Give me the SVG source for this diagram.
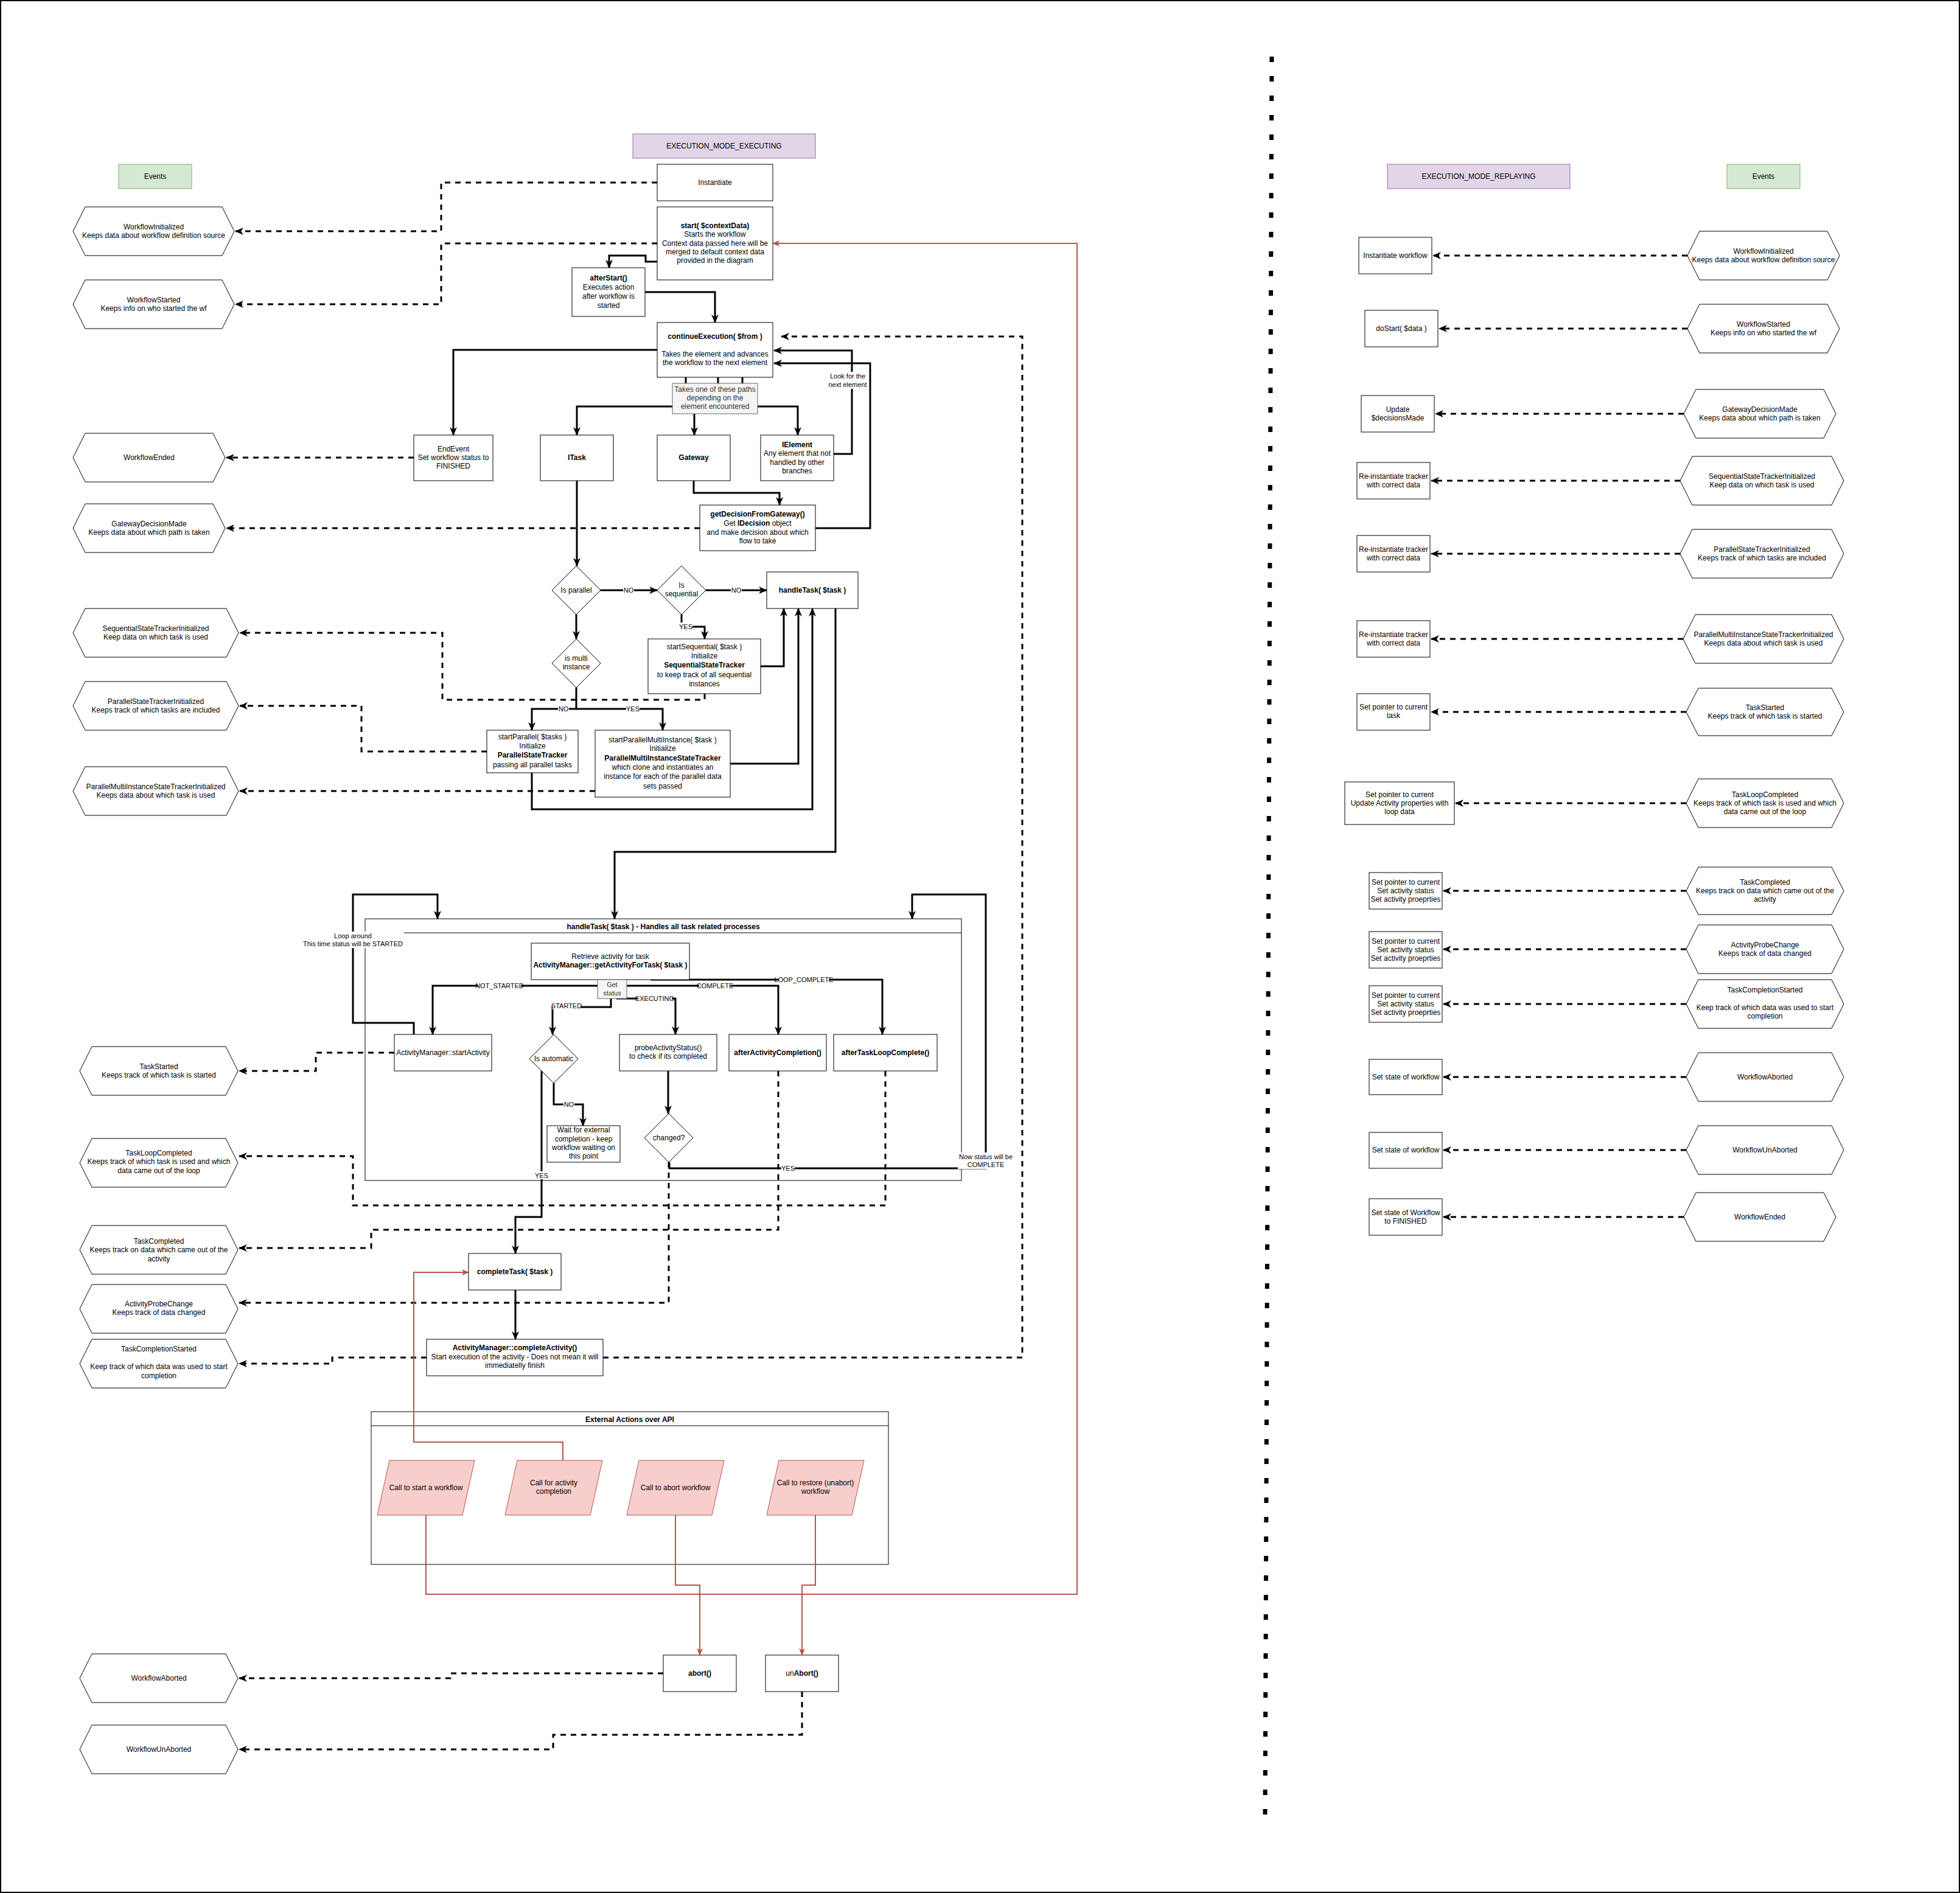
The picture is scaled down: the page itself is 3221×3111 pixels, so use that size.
<svg xmlns="http://www.w3.org/2000/svg" width="3221" height="3111" viewBox="0 0 3221 3111">
<defs>
<style>
.n{fill:#fff;stroke:#000;stroke-width:1}
.t{font-family:"Liberation Sans",Arial,Helvetica,sans-serif;font-size:12px;fill:#000;text-anchor:middle}
.s{font-size:11px}
.b{font-weight:bold}
.g{fill:#f5f5f5;stroke:#666;stroke-width:1}
.gt{fill:#333}
.c{fill:none;stroke:#000;stroke-width:3;marker-end:url(#a)}
.cn{fill:none;stroke:#000;stroke-width:3}
.d{fill:none;stroke:#000;stroke-width:3;stroke-dasharray:9 8;marker-end:url(#a)}
.r{fill:none;stroke:#b85450;stroke-width:2;marker-end:url(#ar)}
.lb{fill:#fff;stroke:none}
.p{fill:#f8cecc;stroke:#b85450;stroke-width:1}
</style>
<marker id="a" viewBox="0 0 14 12" refX="13" refY="6" markerWidth="14" markerHeight="12" orient="auto" markerUnits="userSpaceOnUse"><path d="M0,0 L14,6 L0,12 L4,6 z" fill="#000"/></marker>
<marker id="ar" viewBox="0 0 12 10" refX="11" refY="5" markerWidth="12" markerHeight="10" orient="auto" markerUnits="userSpaceOnUse"><path d="M0,0 L12,5 L0,10 L3,5 z" fill="#b85450"/></marker>
</defs>
<rect x="0" y="0" width="3221" height="3111" fill="#fff"/>
<rect x="1" y="1" width="3219" height="3109" fill="none" stroke="#000" stroke-width="2"/>
<line x1="2090" y1="93" x2="2079" y2="2985" stroke="#000" stroke-width="7" stroke-dasharray="9 23"/>

<g id="containers">
<g id="handleTaskLane">
<rect x="600" y="1510" width="980" height="430" fill="none" stroke="#000" stroke-width="1"/>
<line x1="600" y1="1533" x2="1580" y2="1533" stroke="#000" stroke-width="1"/>
<text class="t b" x="1090" y="1527">handleTask( $task ) - Handles all task related processes</text>
</g>
<g id="externalLane">
<rect x="610" y="2320" width="850" height="251" fill="#fff" stroke="#000" stroke-width="1"/>
<line x1="610" y1="2343" x2="1460" y2="2343" stroke="#000" stroke-width="1"/>
<text class="t b" x="1035" y="2337">External Actions over API</text>
</g>
</g>

<g id="connectors">
<path class="d" d="M1080,300 H725 V380 H387"/>
<path class="d" d="M1080,400 H725 V500 H387"/>
<path class="d" d="M680,752 H372"/>
<path class="d" d="M1150,868 H372"/>
<path class="d" d="M1158,1140 V1150 H727 V1040 H394"/>
<path class="d" d="M800,1235 H594 V1160 H394"/>
<path class="d" d="M978,1300 H394"/>
<path class="d" d="M648,1730 H519 V1760 H393"/>
<path class="d" d="M1455,1760 V1981 H580 V1900 H393"/>
<path class="d" d="M1279,1760 V2021 H610 V2051 H393"/>
<path class="d" d="M1099,1910 V2141 H393"/>
<path class="d" d="M701,2231 H546 V2241 H393"/>
<path class="d" d="M991,2231 H1680 V553 H1284"/>
<path class="d" d="M1090,2750 H740 V2758 H393"/>
<path class="d" d="M1318,2780 V2851 H909 V2875 H393"/>
<path class="c" d="M1080,430 H1061 V420 H1001 V440"/>
<path class="c" d="M1060,480 H1175 V530"/>
<path class="c" d="M1080,575 H745 V715"/>
<path class="cn" d="M1127,620 V630 M1180,620 V630 M1220,620 V630"/>
<path class="c" d="M1105,668 H948 V715"/>
<path class="c" d="M1141,680 V715"/>
<path class="c" d="M1245,668 H1311 V715"/>
<path class="c" d="M1370,746 H1400 V576 H1272"/>
<path class="c" d="M1340,868 H1430 V597 H1272"/>
<path class="c" d="M1140,790 V810 H1281 V830"/>
<path class="c" d="M948,790 V930"/>
<path class="c" d="M987,970 H1080"/>
<path class="c" d="M1160,970 H1260"/>
<path class="c" d="M947,1010 V1050"/>
<path class="c" d="M1120,1010 V1030 H1158 V1050"/>
<path class="c" d="M1250,1095 H1288 V1000"/>
<path class="c" d="M947,1130 V1165 H874 V1200"/>
<path class="c" d="M947,1165 H1089 V1200"/>
<path class="c" d="M1200,1255 H1312 V1000"/>
<path class="c" d="M874,1270 V1330 H1335 V1000"/>
<path class="c" d="M1373,1000 V1400 H1010 V1510"/>
<path class="c" d="M680,1700 V1681 H580 V1470 H719 V1510"/>
<path class="c" d="M1100,1910 V1920 H1620 V1470 H1499 V1510"/>
<path class="c" d="M982,1620 H711 V1700"/>
<path class="c" d="M1030,1620 H1279 V1700"/>
<path class="c" d="M1069,1610 H1450 V1700"/>
<path class="c" d="M1013,1641 H1110 V1700"/>
<path class="c" d="M1004,1641 V1655 H908 V1700"/>
<path class="c" d="M910,1780 V1815 H958 V1850"/>
<path class="c" d="M890,1760 V2000 H847 V2060"/>
<path class="c" d="M1098,1760 V1830"/>
<path class="c" d="M847,2120 V2201"/>
<path class="r" d="M925,2400 V2370 H680 V2091 H770"/>
<path class="r" d="M700,2490 V2620 H1770 V400 H1270"/>
<path class="r" d="M1110,2490 V2605 H1150 V2720"/>
<path class="r" d="M1340,2490 V2605 H1318 V2720"/>
<path class="d" d="M2773,420 H2355"/>
<path class="d" d="M2773,540 H2365"/>
<path class="d" d="M2767,680 H2359"/>
<path class="d" d="M2761,790 H2352"/>
<path class="d" d="M2761,910 H2352"/>
<path class="d" d="M2766,1050 H2352"/>
<path class="d" d="M2771,1170 H2352"/>
<path class="d" d="M2771,1320 H2392"/>
<path class="d" d="M2771,1464 H2372"/>
<path class="d" d="M2771,1560 H2372"/>
<path class="d" d="M2771,1650 H2372"/>
<path class="d" d="M2771,1770 H2372"/>
<path class="d" d="M2771,1890 H2372"/>
<path class="d" d="M2767,2000 H2372"/>
<g class="t s">
<rect class="lb" x="1363" y="611" width="60" height="28"/>
<text x="1393" y="622">Look for the</text><text x="1393" y="636">next element</text>
<rect class="lb" x="1024" y="963" width="18" height="13"/><text x="1033" y="974">NO</text>
<rect class="lb" x="1201" y="963" width="18" height="13"/><text x="1210" y="974">NO</text>
<rect class="lb" x="1116" y="1023" width="22" height="13"/><text x="1127" y="1034">YES</text>
<rect class="lb" x="917" y="1158" width="18" height="13"/><text x="926" y="1169">NO</text>
<rect class="lb" x="1029" y="1158" width="22" height="13"/><text x="1040" y="1169">YES</text>
<rect class="lb" x="496" y="1531" width="168" height="27"/>
<text x="580" y="1542">Loop around</text><text x="580" y="1555">This time status will be STARTED</text>
<rect class="lb" x="786" y="1613" width="70" height="13"/><text x="821" y="1624">NOT_STARTED</text>
<rect class="lb" x="1149" y="1613" width="52" height="13"/><text x="1175" y="1624">COMPLETE</text>
<rect class="lb" x="1280" y="1603" width="82" height="13"/><text x="1321" y="1614">LOOP_COMPLETE</text>
<rect class="lb" x="1048" y="1634" width="56" height="13"/><text x="1076" y="1645">EXECUTING</text>
<rect class="lb" x="908" y="1646" width="46" height="13"/><text x="931" y="1657">STARTED</text>
<rect class="lb" x="926" y="1808" width="18" height="13"/><text x="935" y="1819">NO</text>
<rect class="lb" x="879" y="1925" width="22" height="13"/><text x="890" y="1936">YES</text>
<rect class="lb" x="1284" y="1913" width="22" height="13"/><text x="1295" y="1924">YES</text>
<rect class="lb" x="1574" y="1894" width="92" height="27"/>
<text x="1620" y="1905">Now status will be</text><text x="1620" y="1918">COMPLETE</text>
</g>
</g>

<g id="headers">
<g id="events-left"><rect x="195" y="270" width="120" height="40" fill="#d5e8d4" stroke="#82b366"/><text class="t" x="255" y="294">Events</text></g>
<g id="mode-executing"><rect x="1040" y="220" width="300" height="40" fill="#e1d5e7" stroke="#9673a6"/><text class="t" x="1190" y="244">EXECUTION_MODE_EXECUTING</text></g>
<g id="mode-replaying"><rect x="2280" y="270" width="300" height="40" fill="#e1d5e7" stroke="#9673a6"/><text class="t" x="2430" y="294">EXECUTION_MODE_REPLAYING</text></g>
<g id="events-right"><rect x="2838" y="270" width="120" height="40" fill="#d5e8d4" stroke="#82b366"/><text class="t" x="2898" y="294">Events</text></g>
</g>

<g id="nodes-main">
<g id="instantiate"><rect class="n" x="1080" y="270" width="190" height="60"/><text class="t" x="1175" y="304">Instantiate</text></g>
<g id="start"><rect class="n" x="1080" y="340" width="190" height="120"/>
<text class="t" x="1175" y="375"><tspan class="b">start( $contextData)</tspan><tspan x="1175" y="389">Starts the workflow</tspan><tspan x="1175" y="404">Context data passed here will be</tspan><tspan x="1175" y="418">merged to default context data</tspan><tspan x="1175" y="432">provided in the diagram</tspan></text></g>
<g id="afterStart"><rect class="n" x="940" y="440" width="120" height="80"/>
<text class="t" x="1000" y="461"><tspan class="b">afterStart()</tspan><tspan x="1000" y="476">Executes action</tspan><tspan x="1000" y="491">after workflow is</tspan><tspan x="1000" y="506">started</tspan></text></g>
<g id="continueExecution"><rect class="n" x="1080" y="530" width="190" height="90"/>
<text class="t" x="1175" y="557"><tspan class="b">continueExecution( $from )</tspan><tspan x="1175" y="586">Takes the element and advances</tspan><tspan x="1175" y="600">the workflow to the next element</tspan></text></g>
<g id="pathsNote"><rect class="g" x="1105" y="630" width="140" height="50"/>
<text class="t gt" x="1175" y="644">Takes one of these paths<tspan x="1175" y="658">depending on the</tspan><tspan x="1175" y="672">element encountered</tspan></text></g>
<g id="endEvent"><rect class="n" x="680" y="715" width="130" height="75"/>
<text class="t" x="745" y="742">EndEvent<tspan x="745" y="756">Set workflow status to</tspan><tspan x="745" y="770">FINISHED</tspan></text></g>
<g id="itask"><rect class="n" x="888" y="715" width="120" height="75"/><text class="t b" x="948" y="756">ITask</text></g>
<g id="gateway"><rect class="n" x="1080" y="715" width="120" height="75"/><text class="t b" x="1140" y="756">Gateway</text></g>
<g id="ielement"><rect class="n" x="1250" y="715" width="120" height="75"/>
<text class="t" x="1310" y="735"><tspan class="b">IElement</tspan><tspan x="1310" y="749">Any element that not</tspan><tspan x="1310" y="764">handled by other</tspan><tspan x="1310" y="778">branches</tspan></text></g>
<g id="getDecision"><rect class="n" x="1150" y="830" width="190" height="75"/>
<text class="t" x="1245" y="849"><tspan class="b">getDecisionFromGateway()</tspan><tspan x="1245" y="864">Get <tspan class="b">IDecision</tspan> object</tspan><tspan x="1245" y="879">and make decision about which</tspan><tspan x="1245" y="893">flow to take</tspan></text></g>
<g id="isParallel"><polygon class="n" points="947,930 987,970 947,1010 907,970"/><text class="t" x="947" y="974">Is parallel</text></g>
<g id="isSequential"><polygon class="n" points="1120,930 1160,970 1120,1010 1080,970"/><text class="t" x="1120" y="966">Is<tspan x="1120" y="980">sequential</tspan></text></g>
<g id="isMulti"><polygon class="n" points="947,1050 987,1090 947,1130 907,1090"/><text class="t" x="947" y="1086">is multi<tspan x="947" y="1100">instance</tspan></text></g>
<g id="handleTask"><rect class="n" x="1260" y="940" width="150" height="60"/><text class="t b" x="1335" y="974">handleTask( $task )</text></g>
<g id="startSequential"><rect class="n" x="1065" y="1050" width="185" height="90"/>
<text class="t" x="1157.5" y="1067">startSequential( $task )<tspan x="1157.5" y="1082">Initialize</tspan><tspan x="1157.5" y="1097" class="b">SequentialStateTracker</tspan><tspan x="1157.5" y="1113">to keep track of all sequential</tspan><tspan x="1157.5" y="1128">instances</tspan></text></g>
<g id="startParallel"><rect class="n" x="800" y="1200" width="150" height="70"/>
<text class="t" x="875" y="1215">startParallel( $tasks )<tspan x="875" y="1230">Initialize</tspan><tspan x="875" y="1245" class="b">ParallelStateTracker</tspan><tspan x="875" y="1261">passing all parallel tasks</tspan></text></g>
<g id="startPMI"><rect class="n" x="978" y="1200" width="222" height="110"/>
<text class="t" x="1089" y="1220">startParallelMultiInstance( $task )<tspan x="1089" y="1234">Initialize</tspan><tspan x="1089" y="1250" class="b">ParallelMultiInstanceStateTracker</tspan><tspan x="1089" y="1265">which clone and instantiates an</tspan><tspan x="1089" y="1280">instance for each of the parallel data</tspan><tspan x="1089" y="1296">sets passed</tspan></text></g>
<g id="retrieveActivity"><rect class="n" x="873" y="1550" width="260" height="60"/>
<text class="t" x="1003" y="1576">Retrieve activity for task<tspan x="1003" y="1590" class="b">ActivityManager::getActivityForTask( $task )</tspan></text></g>
<g id="getStatus"><rect class="g" x="982" y="1610" width="48" height="31"/>
<text class="t s gt" x="1006" y="1622">Get<tspan x="1006" y="1636">status</tspan></text></g>
<g id="startActivity"><rect class="n" x="648" y="1700" width="160" height="60"/><text class="t" x="728" y="1734">ActivityManager::startActivity</text></g>
<g id="isAutomatic"><polygon class="n" points="910,1700 950,1740 910,1780 870,1740"/><text class="t" x="910" y="1744">Is automatic</text></g>
<g id="probe"><rect class="n" x="1018" y="1700" width="160" height="60"/>
<text class="t" x="1098" y="1726">probeActivityStatus()<tspan x="1098" y="1740">to check if its completed</tspan></text></g>
<g id="afterActivityCompletion"><rect class="n" x="1198" y="1700" width="160" height="60"/><text class="t b" x="1278" y="1734">afterActivityCompletion()</text></g>
<g id="afterTaskLoopComplete"><rect class="n" x="1370" y="1700" width="170" height="60"/><text class="t b" x="1455" y="1734">afterTaskLoopComplete()</text></g>
<g id="waitExternal"><rect class="n" x="899" y="1850" width="120" height="60"/>
<text class="t" x="959" y="1861">Wait for external<tspan x="959" y="1876">completion - keep</tspan><tspan x="959" y="1890">workflow waiting on</tspan><tspan x="959" y="1904">this point</tspan></text></g>
<g id="changed"><polygon class="n" points="1099,1830 1139,1870 1099,1910 1059,1870"/><text class="t" x="1099" y="1874">changed?</text></g>
<g id="completeTask"><rect class="n" x="770" y="2060" width="152" height="60"/><text class="t b" x="846" y="2094">completeTask( $task )</text></g>
<g id="completeActivity"><rect class="n" x="701" y="2201" width="290" height="60"/>
<text class="t" x="846" y="2219"><tspan class="b">ActivityManager::completeActivity()</tspan><tspan x="846" y="2234">Start execution of the activity - Does not mean it will</tspan><tspan x="846" y="2248">immediatelly finish</tspan></text></g>
<g id="callStart"><polygon class="p" points="640,2400 780,2400 760,2490 620,2490"/><text class="t" x="700" y="2449">Call to start a workflow</text></g>
<g id="callCompletion"><polygon class="p" points="850,2400 990,2400 970,2490 830,2490"/><text class="t" x="910" y="2441">Call for activity<tspan x="910" y="2455">completion</tspan></text></g>
<g id="callAbort"><polygon class="p" points="1050,2400 1190,2400 1170,2490 1030,2490"/><text class="t" x="1110" y="2449">Call to abort workflow</text></g>
<g id="callRestore"><polygon class="p" points="1280,2400 1420,2400 1400,2490 1260,2490"/><text class="t" x="1340" y="2441">Call to restore (unabort)<tspan x="1340" y="2455">workflow</tspan></text></g>
<g id="abort"><rect class="n" x="1090" y="2720" width="120" height="60"/><text class="t b" x="1150" y="2754">abort()</text></g>
<g id="unAbort"><rect class="n" x="1258" y="2720" width="120" height="60"/><text class="t" x="1318" y="2754">un<tspan class="b">Abort()</tspan></text></g>
</g>

<g id="events-executing">
<g id="ev-l-WorkflowInitialized"><polygon class="n" points="120,380 140,340 365,340 385,380 365,420 140,420"/><text class="t" x="252.5" y="377">WorkflowInitialized<tspan x="252.5" y="391">Keeps data about workflow definition source</tspan></text></g>
<g id="ev-l-WorkflowStarted"><polygon class="n" points="120,500 140,460 365,460 385,500 365,540 140,540"/><text class="t" x="252.5" y="497">WorkflowStarted<tspan x="252.5" y="511">Keeps info on who started the wf</tspan></text></g>
<g id="ev-l-WorkflowEnded"><polygon class="n" points="120,752 140,712 350,712 370,752 350,792 140,792"/><text class="t" x="245" y="756">WorkflowEnded</text></g>
<g id="ev-l-GatewayDecisionMade"><polygon class="n" points="120,868 140,828 350,828 370,868 350,908 140,908"/><text class="t" x="245" y="865">GatewayDecisionMade<tspan x="245" y="879">Keeps data about which path is taken</tspan></text></g>
<g id="ev-l-SequentialStateTrackerInitialized"><polygon class="n" points="120,1040 140,1000 372,1000 392,1040 372,1080 140,1080"/><text class="t" x="256" y="1037">SequentialStateTrackerInitialized<tspan x="256" y="1051">Keep data on which task is used</tspan></text></g>
<g id="ev-l-ParallelStateTrackerInitialized"><polygon class="n" points="120,1160 140,1120 372,1120 392,1160 372,1200 140,1200"/><text class="t" x="256" y="1157">ParallelStateTrackerInitialized<tspan x="256" y="1171">Keeps track of which tasks are included</tspan></text></g>
<g id="ev-l-ParallelMultiInstanceStateTrackerInitialized"><polygon class="n" points="120,1300 140,1260 372,1260 392,1300 372,1340 140,1340"/><text class="t" x="256" y="1297">ParallelMultiInstanceStateTrackerInitialized<tspan x="256" y="1311">Keeps data about which task is used</tspan></text></g>
<g id="ev-l-TaskStarted"><polygon class="n" points="131,1760 151,1720 371,1720 391,1760 371,1800 151,1800"/><text class="t" x="261" y="1757">TaskStarted<tspan x="261" y="1771">Keeps track of which task is started</tspan></text></g>
<g id="ev-l-TaskLoopCompleted"><polygon class="n" points="131,1911 151,1871 371,1871 391,1911 371,1951 151,1951"/><text class="t" x="261" y="1899">TaskLoopCompleted<tspan x="261" y="1913">Keeps track of which task is used and which</tspan><tspan x="261" y="1928">data came out of the loop</tspan></text></g>
<g id="ev-l-TaskCompleted"><polygon class="n" points="131,2054 151,2014 371,2014 391,2054 371,2094 151,2094"/><text class="t" x="261" y="2044">TaskCompleted<tspan x="261" y="2058">Keeps track on data which came out of the</tspan><tspan x="261" y="2073">activity</tspan></text></g>
<g id="ev-l-ActivityProbeChange"><polygon class="n" points="131,2151 151,2111 371,2111 391,2151 371,2191 151,2191"/><text class="t" x="261" y="2147">ActivityProbeChange<tspan x="261" y="2161">Keeps track of data changed</tspan></text></g>
<g id="ev-l-TaskCompletionStarted"><polygon class="n" points="131,2241 151,2201 371,2201 391,2241 371,2281 151,2281"/><text class="t" x="261" y="2221">TaskCompletionStarted<tspan x="261" y="2250">Keep track of which data was used to start</tspan><tspan x="261" y="2265">completion</tspan></text></g>
<g id="ev-l-WorkflowAborted"><polygon class="n" points="131,2758 151,2718 371,2718 391,2758 371,2798 151,2798"/><text class="t" x="261" y="2762">WorkflowAborted</text></g>
<g id="ev-l-WorkflowUnAborted"><polygon class="n" points="131,2875 151,2835 371,2835 391,2875 371,2915 151,2915"/><text class="t" x="261" y="2879">WorkflowUnAborted</text></g>
</g>

<g id="nodes-replaying">
<g id="r-instantiate"><rect class="n" x="2233" y="390" width="120" height="60"/><text class="t" x="2293" y="424">Instantiate workflow</text></g>
<g id="r-doStart"><rect class="n" x="2243" y="510" width="120" height="60"/><text class="t" x="2303" y="544">doStart( $data )</text></g>
<g id="r-update"><rect class="n" x="2237" y="650" width="120" height="60"/><text class="t" x="2297" y="677">Update<tspan x="2297" y="691">$decisionsMade</tspan></text></g>
<g id="r-reinst1"><rect class="n" x="2230" y="760" width="120" height="60"/><text class="t" x="2290" y="787">Re-instantiate tracker<tspan x="2290" y="801">with correct data</tspan></text></g>
<g id="r-reinst2"><rect class="n" x="2230" y="880" width="120" height="60"/><text class="t" x="2290" y="907">Re-instantiate tracker<tspan x="2290" y="921">with correct data</tspan></text></g>
<g id="r-reinst3"><rect class="n" x="2230" y="1020" width="120" height="60"/><text class="t" x="2290" y="1047">Re-instantiate tracker<tspan x="2290" y="1061">with correct data</tspan></text></g>
<g id="r-pointer1"><rect class="n" x="2230" y="1140" width="120" height="60"/><text class="t" x="2290" y="1166">Set pointer to current<tspan x="2290" y="1180">task</tspan></text></g>
<g id="r-pointer2"><rect class="n" x="2210" y="1285" width="180" height="70"/><text class="t" x="2300" y="1310">Set pointer to current<tspan x="2300" y="1324">Update Activity properties with</tspan><tspan x="2300" y="1338">loop data</tspan></text></g>
<g id="r-pointer3"><rect class="n" x="2250" y="1434" width="120" height="60"/><text class="t" x="2310" y="1454">Set pointer to current<tspan x="2310" y="1468">Set activity status</tspan><tspan x="2310" y="1482">Set activity proeprties</tspan></text></g>
<g id="r-pointer4"><rect class="n" x="2250" y="1531" width="120" height="60"/><text class="t" x="2310" y="1551">Set pointer to current<tspan x="2310" y="1565">Set activity status</tspan><tspan x="2310" y="1579">Set activity proeprties</tspan></text></g>
<g id="r-pointer5"><rect class="n" x="2250" y="1620" width="120" height="60"/><text class="t" x="2310" y="1640">Set pointer to current<tspan x="2310" y="1654">Set activity status</tspan><tspan x="2310" y="1668">Set activity proeprties</tspan></text></g>
<g id="r-state1"><rect class="n" x="2250" y="1741" width="120" height="58"/><text class="t" x="2310" y="1774">Set state of workflow</text></g>
<g id="r-state2"><rect class="n" x="2250" y="1861" width="120" height="59"/><text class="t" x="2310" y="1894">Set state of workflow</text></g>
<g id="r-state3"><rect class="n" x="2250" y="1970" width="120" height="60"/><text class="t" x="2310" y="1997">Set state of Workflow<tspan x="2310" y="2011">to FINISHED</tspan></text></g>
</g>

<g id="events-replaying">
<g id="ev-r-WorkflowInitialized"><polygon class="n" points="2773,420 2793,380 3003,380 3023,420 3003,460 2793,460"/><text class="t" x="2898" y="417">WorkflowInitialized<tspan x="2898" y="431">Keeps data about workflow definition source</tspan></text></g>
<g id="ev-r-WorkflowStarted"><polygon class="n" points="2773,540 2793,500 3003,500 3023,540 3003,580 2793,580"/><text class="t" x="2898" y="537">WorkflowStarted<tspan x="2898" y="551">Keeps info on who started the wf</tspan></text></g>
<g id="ev-r-GatewayDecisionMade"><polygon class="n" points="2767,680 2787,640 2997,640 3017,680 2997,720 2787,720"/><text class="t" x="2892" y="677">GatewayDecisionMade<tspan x="2892" y="691">Keeps data about which path is taken</tspan></text></g>
<g id="ev-r-SequentialStateTrackerInitialized"><polygon class="n" points="2761,790 2781,750 3010,750 3030,790 3010,830 2781,830"/><text class="t" x="2895.5" y="787">SequentialStateTrackerInitialized<tspan x="2895.5" y="801">Keep data on which task is used</tspan></text></g>
<g id="ev-r-ParallelStateTrackerInitialized"><polygon class="n" points="2761,910 2781,870 3010,870 3030,910 3010,950 2781,950"/><text class="t" x="2895.5" y="907">ParallelStateTrackerInitialized<tspan x="2895.5" y="921">Keeps track of which tasks are included</tspan></text></g>
<g id="ev-r-ParallelMultiInstanceStateTrackerInitialized"><polygon class="n" points="2766,1050 2786,1010 3010,1010 3030,1050 3010,1090 2786,1090"/><text class="t" x="2898" y="1047">ParallelMultiInstanceStateTrackerInitialized<tspan x="2898" y="1061">Keeps data about which task is used</tspan></text></g>
<g id="ev-r-TaskStarted"><polygon class="n" points="2771,1170 2791,1131 3010,1131 3030,1170 3010,1209 2791,1209"/><text class="t" x="2900.5" y="1167">TaskStarted<tspan x="2900.5" y="1181">Keeps track of which task is started</tspan></text></g>
<g id="ev-r-TaskLoopCompleted"><polygon class="n" points="2771,1320 2791,1280 3010,1280 3030,1320 3010,1360 2791,1360"/><text class="t" x="2900.5" y="1310">TaskLoopCompleted<tspan x="2900.5" y="1324">Keeps track of which task is used and which</tspan><tspan x="2900.5" y="1338">data came out of the loop</tspan></text></g>
<g id="ev-r-TaskCompleted"><polygon class="n" points="2771,1464 2791,1425 3010,1425 3030,1464 3010,1503 2791,1503"/><text class="t" x="2900.5" y="1454">TaskCompleted<tspan x="2900.5" y="1468">Keeps track on data which came out of the</tspan><tspan x="2900.5" y="1482">activity</tspan></text></g>
<g id="ev-r-ActivityProbeChange"><polygon class="n" points="2771,1560 2791,1520 3010,1520 3030,1560 3010,1600 2791,1600"/><text class="t" x="2900.5" y="1557">ActivityProbeChange<tspan x="2900.5" y="1571">Keeps track of data changed</tspan></text></g>
<g id="ev-r-TaskCompletionStarted"><polygon class="n" points="2771,1650 2791,1610 3010,1610 3030,1650 3010,1690 2791,1690"/><text class="t" x="2900.5" y="1631">TaskCompletionStarted<tspan x="2900.5" y="1660">Keep track of which data was used to start</tspan><tspan x="2900.5" y="1674">completion</tspan></text></g>
<g id="ev-r-WorkflowAborted"><polygon class="n" points="2771,1770 2791,1730 3010,1730 3030,1770 3010,1810 2791,1810"/><text class="t" x="2900.5" y="1774">WorkflowAborted</text></g>
<g id="ev-r-WorkflowUnAborted"><polygon class="n" points="2771,1890 2791,1850 3010,1850 3030,1890 3010,1930 2791,1930"/><text class="t" x="2900.5" y="1894">WorkflowUnAborted</text></g>
<g id="ev-r-WorkflowEnded"><polygon class="n" points="2767,2000 2787,1960 2997,1960 3017,2000 2997,2040 2787,2040"/><text class="t" x="2892" y="2004">WorkflowEnded</text></g>
</g>
</svg>
